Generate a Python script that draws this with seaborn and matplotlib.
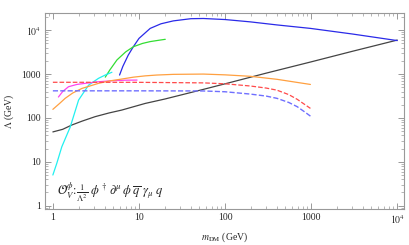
import numpy as np
import pandas as pd
import matplotlib
matplotlib.use("Agg")
import matplotlib.pyplot as plt
import matplotlib.ticker as mticker
import seaborn as sns

# ---- data ----
black_x = [1.0, 1.3, 1.66, 2.2, 3.1, 4.5, 6.3, 11.8, 20, 56, 100, 300, 1000, 3000, 10000]
black_y = [48, 55, 69, 85, 107, 130, 151, 214, 270, 448, 600, 1050, 1900, 3300, 5960]

blue_x = [5.95, 6.5, 7.5, 8.6, 10, 13.5, 18, 25, 40, 56, 100, 196, 400, 980, 3000, 10000]
blue_y = [950, 1500, 2700, 4200, 6500, 11000, 14000, 16300, 18300, 18500, 17500, 15500, 13200, 11000, 8200, 5800]

green_x = [4.06, 4.6, 5.55, 7.0, 8.6, 11, 13.5, 17, 20.2]
green_y = [850, 1250, 2100, 3200, 4200, 5000, 5500, 5900, 6200]

cyan_x = [1.0, 1.11, 1.27, 1.59, 1.99, 2.6, 3.39, 4.1, 4.85]
cyan_y = [5, 9.2, 22, 62, 256, 560, 800, 960, 1100]

magenta_x = [1.16, 1.3, 1.52, 1.9, 2.37, 3.3, 4.85, 7.0, 9.5]
magenta_y = [300, 400, 515, 580, 615, 665, 705, 725, 730]

orange_x = [1.0, 1.2, 1.39, 1.7, 2.17, 3.39, 4.6, 6.3, 8.6, 11.8, 16, 25, 56, 100, 196, 400, 980]
orange_y = [157, 215, 280, 370, 470, 615, 700, 770, 850, 910, 950, 985, 1000, 960, 890, 760, 580]

red_x = [1.0, 10, 56, 100, 196, 300, 400, 550, 690, 850, 980]
red_y = [650, 648, 630, 600, 535, 480, 430, 340, 265, 200, 165]

bluedash_x = [1.0, 10, 56, 100, 196, 300, 400, 550, 690, 850, 980]
bluedash_y = [415, 415, 412, 395, 350, 315, 280, 225, 180, 135, 110]

x_ticks = [1, 10, 100, 1000, 10000]
x_ticklabels = ["1", "10", "100", "1000", r"$10^4$"]
y_ticks = [1, 10, 100, 1000, 10000]
y_ticklabels = ["1", "10", "100", "1000", r"$10^4$"]

sns.set_style("ticks")
plt.rcParams["font.family"] = ["Liberation Serif", "DejaVu Serif"]
plt.rcParams["mathtext.fontset"] = "stix"

fig = plt.figure(figsize=(4.09, 2.45), dpi=100)
ax = fig.add_axes([0.110, 0.147, 0.878, 0.800])

series = [
    (black_x, black_y, "#444444", "-", 0.9),
    (blue_x, blue_y, "#2a2ae8", "-", 0.9),
    (green_x, green_y, "#33dd33", "-", 0.9),
    (cyan_x, cyan_y, "#22f0f0", "-", 0.9),
    (magenta_x, magenta_y, "#ff44ee", "-", 0.9),
    (orange_x, orange_y, "#ffa040", "-", 0.9),
    (red_x, red_y, "#ff4a4a", "--", 0.9),
    (bluedash_x, bluedash_y, "#6f6fff", "--", 1.0),
]
for xs, ys, col, ls, lw in series:
    df = pd.DataFrame({"x": xs, "y": ys})
    sns.lineplot(data=df, x="x", y="y", ax=ax, color=col, linestyle=ls,
                 linewidth=lw, estimator=None, sort=False)

ax.set_xscale("log")
ax.set_yscale("log")
ax.set_xlim(0.81, 12000)
ax.set_ylim(0.84, 24700)

ax.set_xticks(x_ticks)
ax.set_xticklabels(x_ticklabels)
ax.set_yticks(y_ticks)
ax.set_yticklabels(y_ticklabels)
ax.xaxis.set_minor_locator(mticker.LogLocator(base=10, subs=np.arange(2, 10)))
ax.yaxis.set_minor_locator(mticker.LogLocator(base=10, subs=np.arange(2, 10)))
ax.xaxis.set_minor_formatter(mticker.NullFormatter())
ax.yaxis.set_minor_formatter(mticker.NullFormatter())

for sp in ax.spines.values():
    sp.set_color("#999999")
    sp.set_linewidth(0.8)
ax.tick_params(which="both", direction="in", top=True, right=True,
               color="#999999", labelsize=7, pad=3)
ax.tick_params(which="major", length=4, width=0.7)
ax.tick_params(which="minor", length=2, width=0.5)

ax.set_xlabel(r"$m_{\rm DM}$ (GeV)", fontsize=7, labelpad=3)
ax.set_ylabel(r"$\Lambda$ (GeV)", fontsize=7, labelpad=4)

ax.text(0.033, 0.087,
        r"$\mathcal{O}_V^{\phi}\!:\!\frac{1}{\Lambda^2}\ \phi^\dagger\,\partial^\mu\,\phi\ \overline{q}\ \gamma_\mu\ q$",
        transform=ax.transAxes, fontsize=9, va="center", ha="left")

fig.savefig("out.png", dpi=100)
